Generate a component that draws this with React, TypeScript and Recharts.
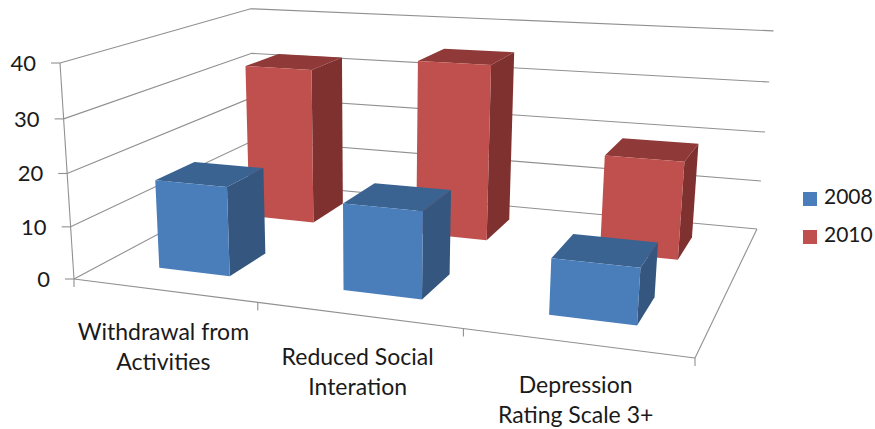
import React from 'react';
import { BarChart, Bar, XAxis, YAxis, CartesianGrid, Legend } from 'recharts';

const CATEGORIES = ['Withdrawal from\nActivities', 'Reduced Social\nInteration', 'Depression\nRating Scale 3+'];
const VALUES_2008 = [17, 16, 10];
const VALUES_2010 = [32, 35, 19];
const Y_TICKS = [0, 10, 20, 30, 40];

const chartData = CATEGORIES.map((name, i) => ({ name, y2008: VALUES_2008[i], y2010: VALUES_2010[i] }));

const WIDTH = 875;
const HEIGHT = 429;
const FONT = 'Lato, sans-serif';
const LEGEND_WIDTH = 84;

// flat plot area that recharts lays out; everything is then pushed through the camera below
const PLOT = { left: 40, top: 20, width: 600, height: 320 };
const BAR_SIZE = 79;

// camera: front-left floor, front-right floor, front-left top, back-left floor + homogeneous weights
const O = { x: 74, y: 279 };
const U = { x: 695, y: 358 };
const V = { x: 60, y: 63 };
const D = { x: 255, y: 182.5 };
const WU = 0.8407;
const WV = 0.955;
const WD = 1.2568;

const project = (u: number, v: number, d: number) => {
  const n = 1 + (WU - 1) * u + (WV - 1) * v + (WD - 1) * d;
  const axis = (k: 'x' | 'y') =>
    (O[k] + (U[k] * WU - O[k]) * u + (V[k] * WV - O[k]) * v + (D[k] * WD - O[k]) * d) / n;
  return { x: axis('x'), y: axis('y') };
};

const toU = (x: number) => (x - PLOT.left) / PLOT.width;
const toV = (y: number) => (PLOT.top + PLOT.height - y) / PLOT.height;

const pts = (list: { x: number; y: number }[]) => list.map((p) => `${p.x},${p.y}`).join(' ');

const WALL = '#909090';

const Edge = ({ a, b }: { a: { x: number; y: number }; b: { x: number; y: number } }) => (
  <line x1={a.x} y1={a.y} x2={b.x} y2={b.y} stroke={WALL} strokeWidth={1.1} />
);

// one gridline bends round the side wall and the back wall
const WallLine = (props: any) => {
  const v = toV(props.y1);
  return (
    <g key={props.key}>
      <polyline
        points={pts([project(0, v, 0), project(0, v, 1), project(1, v, 1)])}
        fill="none"
        stroke={WALL}
        strokeWidth={1.1}
      />
      {v < 0.01 && <Edge a={project(0, 0, 0)} b={project(1, 0, 0)} />}
      {v < 0.01 && <Edge a={project(1, 0, 0)} b={project(1, 0, 1)} />}
      {v > 0.99 && <Edge a={project(0, 0, 0)} b={project(0, 1, 0)} />}
    </g>
  );
};

const makeBox = (d0: number, d1: number, front: string, side: string, top: string) => (props: any) => {
  const { x, y, width, height } = props;
  const u0 = toU(x);
  const u1 = toU(x + width);
  const vt = toV(y);
  const vb = toV(y + height);
  return (
    <g>
      <polygon
        points={pts([project(u0, vt, d0), project(u0, vt, d1), project(u1, vt, d1), project(u1, vt, d0)])}
        fill={top}
      />
      <polygon
        points={pts([project(u1, vb, d0), project(u1, vb, d1), project(u1, vt, d1), project(u1, vt, d0)])}
        fill={side}
      />
      <polygon
        points={pts([project(u0, vb, d0), project(u1, vb, d0), project(u1, vt, d0), project(u0, vt, d0)])}
        fill={front}
      />
    </g>
  );
};

const Box2008 = makeBox(0.15, 0.35, '#4a7ebb', '#34567f', '#3a6391');
const Box2010 = makeBox(0.655, 0.865, '#bf504d', '#7f312f', '#8f3a38');

const YTick = (props: any) => {
  const p = project(0, toV(props.y), 0);
  return (
    <g>
      <line x1={p.x - 9} y1={p.y} x2={p.x} y2={p.y} stroke={WALL} strokeWidth={1.1} />
      <text x={p.x - 24} y={p.y + 8} textAnchor="end" fontSize={22} fontFamily={FONT} fill="#1a1a1a">
        {props.payload.value}
      </text>
    </g>
  );
};

const XTick = (props: any) => {
  const u = toU(props.x);
  const half = 1 / (2 * CATEGORIES.length);
  const start = project(u - half, 0, 0);
  const end = project(u + half, 0, 0);
  const mid = project(u, 0, 0);
  const isLast = props.index === CATEGORIES.length - 1;
  return (
    <g>
      <line x1={start.x} y1={start.y} x2={start.x} y2={start.y + 8} stroke={WALL} strokeWidth={1.1} />
      {isLast && <line x1={end.x} y1={end.y} x2={end.x} y2={end.y + 8} stroke={WALL} strokeWidth={1.1} />}
      <text textAnchor="middle" fontSize={23} fontFamily={FONT} fill="#1a1a1a">
        {String(props.payload.value)
          .split('\n')
          .map((line, i) => (
            <tspan key={i} x={mid.x} y={mid.y + 50 + i * 30}>
              {line}
            </tspan>
          ))}
      </text>
    </g>
  );
};

const App = () => (
  <div style={{ position: 'absolute', left: 0, top: 0, width: WIDTH, height: HEIGHT, background: '#fff', fontFamily: FONT, overflow: 'hidden' }}>
    <BarChart
      width={WIDTH}
      height={HEIGHT}
      data={chartData}
      barSize={BAR_SIZE}
      barGap={-BAR_SIZE}
      margin={{
        left: PLOT.left - 1,
        top: PLOT.top,
        right: WIDTH - PLOT.left - PLOT.width - LEGEND_WIDTH,
        bottom: HEIGHT - PLOT.top - PLOT.height - 1,
      }}
    >
      <CartesianGrid horizontal={WallLine} vertical={false} />
      <XAxis dataKey="name" height={1} axisLine={false} tickLine={false} interval={0} tick={XTick} />
      <YAxis
        domain={[0, 40]}
        ticks={Y_TICKS}
        width={1}
        axisLine={false}
        tickLine={false}
        interval={0}
        tick={YTick}
      />
      <Bar dataKey="y2010" name="2010" fill="#bf504d" shape={Box2010} isAnimationActive={false} />
      <Bar dataKey="y2008" name="2008" fill="#4a7ebb" shape={Box2008} isAnimationActive={false} />
      <Legend
        layout="vertical"
        align="right"
        verticalAlign="middle"
        iconType="square"
        iconSize={14}
        width={LEGEND_WIDTH}
        wrapperStyle={{ left: 803, top: 177, fontSize: 21, lineHeight: '38px' }}
        formatter={(value: string) => <span style={{ color: '#1a1a1a', marginLeft: 3 }}>{value}</span>}
      />
    </BarChart>
  </div>
);

export default App;
